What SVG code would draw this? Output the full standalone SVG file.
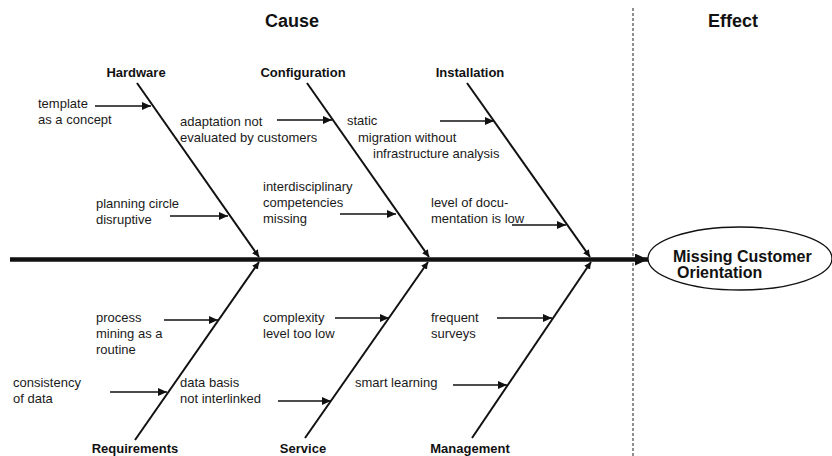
<svg xmlns="http://www.w3.org/2000/svg" width="832" height="456" viewBox="0 0 832 456">
  <style>
    .t { font-family: "Liberation Sans", Arial, sans-serif; font-size: 13px; fill: #1a1a1a; }
    .b { font-family: "Liberation Sans", Arial, sans-serif; font-size: 13px; font-weight: bold; fill: #111; text-anchor: middle; }
    .h { font-family: "Liberation Sans", Arial, sans-serif; font-size: 18px; font-weight: bold; fill: #111; text-anchor: middle; }
    .e { font-family: "Liberation Sans", Arial, sans-serif; font-size: 16px; font-weight: bold; fill: #111; }
    .bone { stroke: #111; stroke-width: 2; fill: none; marker-end: url(#bh); }
    .sub { stroke: #111; stroke-width: 1.3; fill: none; marker-end: url(#sh); }
  </style>
  <defs>
    <marker id="sh" markerUnits="userSpaceOnUse" markerWidth="10" markerHeight="8" refX="9" refY="4" orient="auto">
      <path d="M0,0 L9,4 L0,8 Z" fill="#111"/>
    </marker>
    <marker id="bh" markerUnits="userSpaceOnUse" markerWidth="8" markerHeight="7" refX="7" refY="3.5" orient="auto">
      <path d="M0,0 L7,3.5 L0,7 Z" fill="#111"/>
    </marker>
    <marker id="mh" markerUnits="userSpaceOnUse" markerWidth="14" markerHeight="12" refX="13" refY="6" orient="auto">
      <path d="M0,0 L13,6 L0,12 Z" fill="#111"/>
    </marker>
  </defs>
  <rect width="832" height="456" fill="#fff"/>

  <text class="h" x="292" y="27">Cause</text>
  <text class="h" x="733" y="27">Effect</text>
  <line x1="633" y1="8" x2="633" y2="456" stroke="#555" stroke-width="1.3" stroke-dasharray="3,2"/>

  <g id="connectors">
    <line id="spine" x1="10" y1="259.5" x2="648" y2="259.5" stroke="#111" stroke-width="4.5" marker-end="url(#mh)"/>
    <line class="bone" x1="137" y1="83" x2="259" y2="257"/>
    <line class="bone" x1="307" y1="83" x2="429" y2="257"/>
    <line class="bone" x1="467" y1="83" x2="590" y2="257"/>
    <line class="bone" x1="135" y1="440" x2="259" y2="262"/>
    <line class="bone" x1="305" y1="438" x2="428" y2="262"/>
    <line class="bone" x1="472" y1="438" x2="591" y2="262"/>
    <line class="sub" x1="95" y1="106" x2="151" y2="106"/>
    <line class="sub" x1="170" y1="216" x2="228" y2="216"/>
    <line class="sub" x1="277" y1="120" x2="332" y2="120"/>
    <line class="sub" x1="340" y1="214" x2="396" y2="214"/>
    <line class="sub" x1="440" y1="121" x2="494" y2="121"/>
    <line class="sub" x1="512" y1="225" x2="566" y2="225"/>
    <line class="sub" x1="164" y1="320" x2="218" y2="320"/>
    <line class="sub" x1="110" y1="392" x2="167" y2="392"/>
    <line class="sub" x1="278" y1="401" x2="331" y2="401"/>
    <line class="sub" x1="335" y1="318" x2="389" y2="318"/>
    <line class="sub" x1="453" y1="385" x2="507" y2="385"/>
    <line class="sub" x1="497" y1="318" x2="552" y2="318"/>
  </g>

  <g id="hardware">
    <text class="b" x="136" y="77">Hardware</text>
    <text class="t" x="38" y="108">template</text>
    <text class="t" x="38" y="124">as a concept</text>
    <text class="t" x="96" y="208">planning circle</text>
    <text class="t" x="96" y="224">disruptive</text>
  </g>
  <g id="configuration">
    <text class="b" x="303" y="77">Configuration</text>
    <text class="t" x="180" y="126">adaptation not</text>
    <text class="t" x="180" y="142">evaluated by customers</text>
    <text class="t" x="263" y="191">interdisciplinary</text>
    <text class="t" x="263" y="207">competencies</text>
    <text class="t" x="263" y="223">missing</text>
  </g>
  <g id="installation">
    <text class="b" x="470" y="77">Installation</text>
    <text class="t" x="347" y="125">static</text>
    <text class="t" x="358" y="142">migration without</text>
    <text class="t" x="373" y="158">infrastructure analysis</text>
    <text class="t" x="431" y="207">level of docu-</text>
    <text class="t" x="431" y="223">mentation is low</text>
  </g>
  <g id="requirements">
    <text class="b" x="135" y="453">Requirements</text>
    <text class="t" x="96" y="322">process</text>
    <text class="t" x="96" y="338">mining as a</text>
    <text class="t" x="96" y="354">routine</text>
    <text class="t" x="13" y="387">consistency</text>
    <text class="t" x="13" y="403">of data</text>
  </g>
  <g id="service">
    <text class="b" x="303" y="453">Service</text>
    <text class="t" x="180" y="387">data basis</text>
    <text class="t" x="180" y="403">not interlinked</text>
    <text class="t" x="263" y="322">complexity</text>
    <text class="t" x="263" y="338">level too low</text>
  </g>
  <g id="management">
    <text class="b" x="470" y="453">Management</text>
    <text class="t" x="355" y="387">smart learning</text>
    <text class="t" x="431" y="322">frequent</text>
    <text class="t" x="431" y="338">surveys</text>
  </g>
  <g id="effect">
    <ellipse cx="740" cy="258.5" rx="92" ry="31.5" fill="#fff" stroke="#111" stroke-width="1.3"/>
    <text class="e" x="673" y="262">Missing Customer</text>
    <text class="e" x="677" y="278">Orientation</text>
  </g>
</svg>
